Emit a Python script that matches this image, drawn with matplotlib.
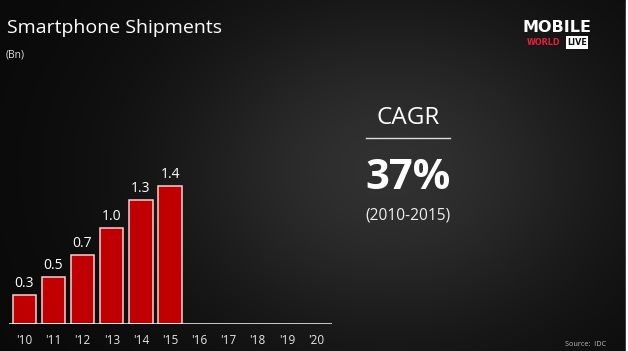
import numpy as np
import matplotlib
matplotlib.use("Agg")
import matplotlib.pyplot as plt
from matplotlib.patches import Rectangle

# ---- data ----
years = ["'10", "'11", "'12", "'13", "'14", "'15", "'16", "'17", "'18", "'19", "'20"]
shipments = [0.30, 0.48, 0.71, 0.98, 1.27, 1.41]  # Bn, 2010-2015
title = "Smartphone Shipments"
unit = "(Bn)"
cagr_label = "CAGR"
cagr_value = "37%"
cagr_period = "(2010-2015)"
source = "Source:  IDC"

W, H = 628, 351
fig = plt.figure(figsize=(W / 100, H / 100), dpi=100)

# ---- background (smooth dark gradient) ----
bg_ax = fig.add_axes([0, 0, 1, 1])
yy, xx = np.mgrid[0:H, 0:W]
val = 9 + 40 * np.exp(-((xx - 390) / 230.0) ** 2 - ((yy - 170) / 175.0) ** 2)
img = np.dstack([val, val, val * 1.02]) / 255.0
bg_ax.imshow(np.clip(img, 0, 1), extent=[0, W, H, 0], aspect="auto")
bg_ax.set_xlim(0, W)
bg_ax.set_ylim(H, 0)
bg_ax.axis("off")
bg_ax.add_patch(Rectangle((626, 0), 2, H, color="white", zorder=5))

font = "Open Sans"

# ---- chart axes ----
base_px = 324.0
ppu = 97.6
ax_bottom = (H - base_px) / H
ax_height = 1.6 * ppu / H
ax = fig.add_axes([9 / W, ax_bottom, 323 / W, ax_height])
ax.patch.set_alpha(0)
x = np.arange(len(years))
bars = ax.bar(x[:len(shipments)], shipments, width=0.8, color="#c00000",
              edgecolor="#f5d0d0", linewidth=1.1, zorder=2)
for xi, v in zip(x, shipments):
    ax.text(xi, v + 0.04, f"{v:.1f}", ha="center", va="bottom", color="white",
            fontsize=10, family=font)
ax.set_xlim(-0.52, 10.55)
ax.set_ylim(0, 1.6)
for s in ax.spines.values():
    s.set_visible(False)
ax.axhline(0, color="white", linewidth=1.8, zorder=3)
ax.set_yticks([])
ax.set_xticks(x)
ax.set_xticklabels(years, family=font, fontsize=8.5, color="#e6e6e6")
ax.tick_params(axis="x", length=0, pad=7)

# ---- texts ----
fig.text(7 / W, 1 - 28 / H, title, color="white", fontsize=14, family=font,
         ha="left", va="center")
fig.text(6 / W, 1 - 55 / H, unit, color="#e0e0e0", fontsize=7.5, family=font,
         ha="left", va="center")

cx = 408 / W
fig.text(cx, 1 - 118.5 / H, cagr_label, color="white", fontsize=17.5, family=font,
         ha="center", va="center")
bg_ax.plot([366, 450], [138.3, 138.3], color="#dddddd", linewidth=1.0, zorder=4)
fig.text(cx, 1 - 178 / H, cagr_value, color="white", fontsize=30, family=font,
         fontweight="bold", ha="center", va="center")
fig.text(cx, 1 - 215 / H, cagr_period, color="#eeeeee", fontsize=11.2, family=font,
         ha="center", va="center")

fig.text(606 / W, 1 - 344.5 / H, source, color="#bbbbbb", fontsize=5.2, family=font,
         ha="right", va="center")

# ---- logo ----
fig.text(557.5 / W, 1 - 28 / H, "MOBILE", color="white", fontsize=11.5,
         family="DejaVu Sans", fontweight="bold", ha="center", va="center")
fig.text(543.5 / W, 1 - 42.5 / H, "WORLD", color="#e8203a", fontsize=5.8,
         family="DejaVu Sans", fontweight="bold", ha="center", va="center")
fig.text(577 / W, 1 - 42.5 / H, "LIVE", color="#111111", fontsize=5.8,
         family="DejaVu Sans", fontweight="bold", ha="center", va="center",
         bbox=dict(boxstyle="square,pad=0.2", facecolor="white", edgecolor="none"))

fig.savefig("out.png", dpi=100)
